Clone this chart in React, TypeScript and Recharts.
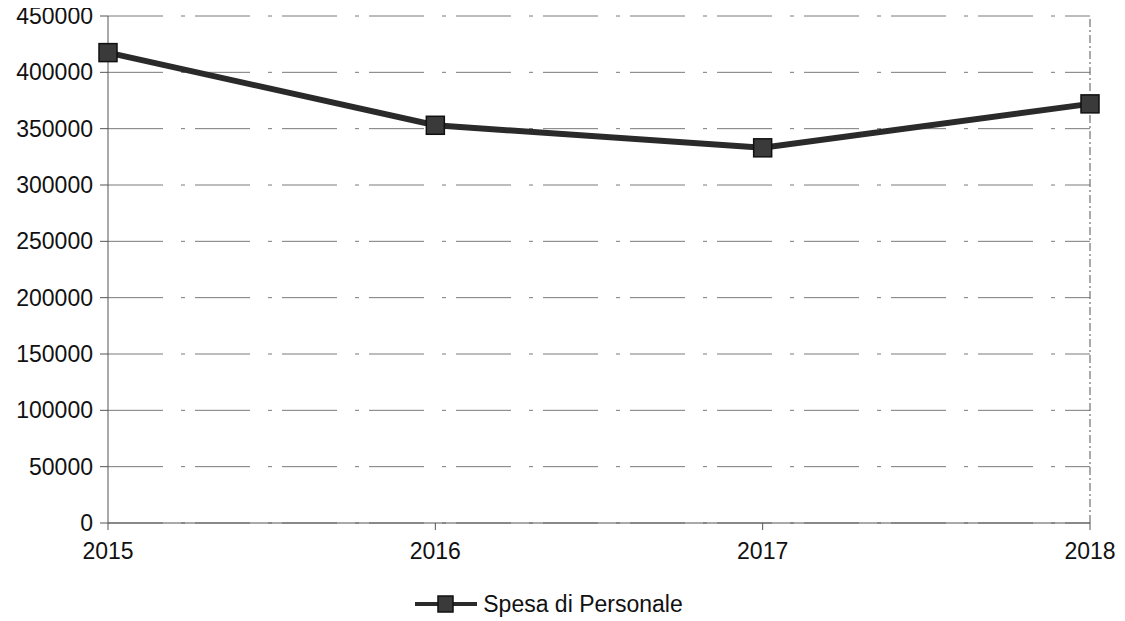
import React from 'react';
import { LineChart, Line, XAxis, YAxis, CartesianGrid, Legend, ReferenceLine } from 'recharts';

const YEARS = ['2015', '2016', '2017', '2018'];
const SPESA = [417500, 353000, 333000, 372000];
const Y_TICKS = [0, 50000, 100000, 150000, 200000, 250000, 300000, 350000, 400000, 450000];
const SERIES_NAME = 'Spesa di Personale';

const data = YEARS.map((year, i) => ({ year, spesa: SPESA[i] }));

const FONT = '"Liberation Sans", Arial, sans-serif';

const SquareDot = (props: any) => {
  const { cx, cy } = props;
  if (cx == null || cy == null) return null;
  return <rect x={cx - 9} y={cy - 9} width={18} height={18} fill="#3a3a3a" stroke="#111" strokeWidth={1.5} />;
};

const LegendContent = () => (
  <div style={{ height: 58, boxSizing: 'border-box', paddingTop: 27, display: 'flex', justifyContent: 'center', alignItems: 'flex-start', fontFamily: FONT, fontSize: 23, color: '#111' }}>
    <svg width={62} height={28} style={{ marginRight: 6 }}>
      <line x1={0} y1={14} x2={62} y2={14} stroke="#2a2a2a" strokeWidth={4} />
      <rect x={23} y={6} width={15} height={16} fill="#3a3a3a" stroke="#111" strokeWidth={1.5} />
    </svg>
    <span style={{ lineHeight: '28px' }}>{SERIES_NAME}</span>
  </div>
);

export default function App() {
  return (
    <div style={{ width: 1109, height: 621, marginTop: -8, background: '#fff' }}>
      <LineChart width={1109} height={621} data={data} margin={{ top: 16, right: 27, bottom: 0, left: 0 }}>
        <CartesianGrid vertical={false} stroke="#7a7a7a" strokeDasharray="55 18 4 10" />
        <ReferenceLine x="2018" stroke="#555" strokeDasharray="8 3 2 3" />
        <XAxis
          dataKey="year"
          padding={{ left: 0, right: 0 }}
          height={40}
          tickSize={7}
          tickMargin={13}
          stroke="#555"
          tick={{ fill: '#111', fontSize: 23, fontFamily: FONT }}
        />
        <YAxis
          domain={[0, 450000]}
          ticks={Y_TICKS}
          width={100}
          tickSize={8}
          tickMargin={7}
          stroke="#555"
          interval={0}
          tick={{ fill: '#111', fontSize: 23, fontFamily: FONT }}
        />
        <Legend verticalAlign="bottom" height={58} content={<LegendContent />} />
        <Line
          type="linear"
          dataKey="spesa"
          name={SERIES_NAME}
          stroke="#2a2a2a"
          strokeWidth={6}
          dot={<SquareDot />}
          activeDot={false}
          isAnimationActive={false}
        />
      </LineChart>
    </div>
  );
}
